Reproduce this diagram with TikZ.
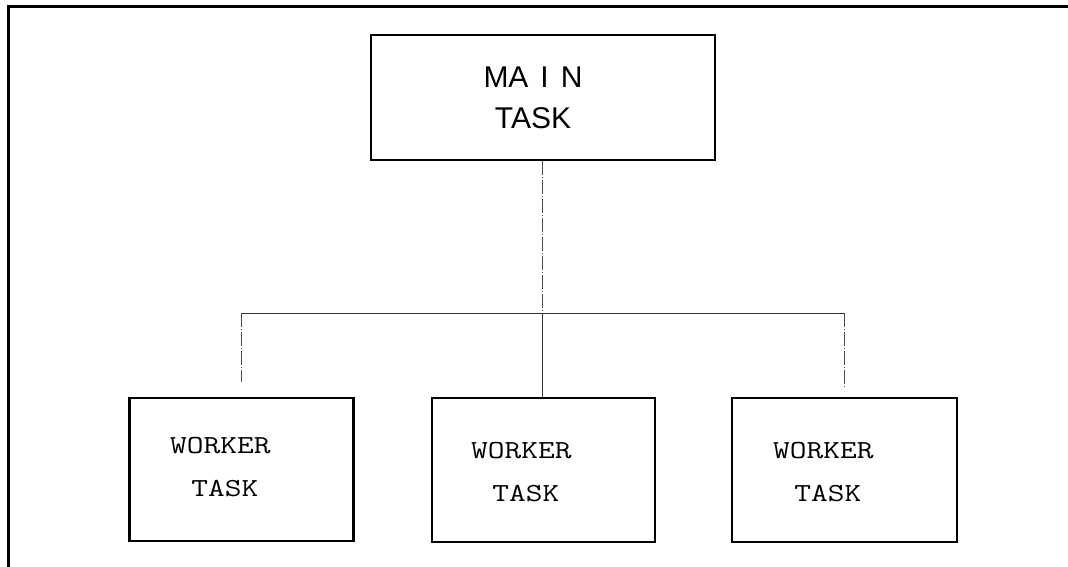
\documentclass[tikz,border=0pt]{standalone}
\usepackage{fontspec}
\usepackage{graphicx}
\usetikzlibrary{calc}
\setmainfont{Liberation Sans}
\newcommand{\wtask}{\scalebox{1.25}[1]{\begin{tabular}{@{}l@{}}WORKER\\\hspace*{17pt}TASK\end{tabular}}}
\begin{document}
\begin{tikzpicture}[x=1pt,y=-1pt,
  box/.style={draw=black,line width=2.4pt,inner sep=0pt,rectangle},
  maintext/.style={align=center,font=\fontsize{30}{41}\selectfont,inner sep=0pt},
  worktext/.style={anchor=west,font=\ttfamily\fontsize{26}{43}\selectfont,inner sep=0pt},
  conn/.style={line width=1pt,black!80},
  dconn/.style={line width=1pt,black!70,dash pattern=on 14pt off 2pt on 1pt off 2pt}]
\useasboundingbox (0,0) rectangle (1068,567);
% partial frame (top and left only)
\draw[line width=3pt] (8,567) -- (8,7) -- (1068,7);
% boxes
\node[box,minimum width=344pt,minimum height=125pt] (main) at (543,97.5) {};
\node[box,minimum width=224pt,minimum height=143pt] (w1) at (241.5,469.5) {};
\node[box,minimum width=223pt,minimum height=144pt] (w2) at (543.5,470) {};
\node[box,minimum width=225pt,minimum height=144pt] (w3) at (844.5,470) {};
% texts
\node[maintext] (mt) at (533,97.5) {MA\hspace{0.4em}I\hspace{0.4em}N\\TASK};
\node[worktext] (t1) at (170,466) {\wtask};
\node[worktext] (t2) at (471,471) {\wtask};
\node[worktext] (t3) at (773,471) {\wtask};
% connectors
\coordinate (j) at (542,313);
\coordinate (jl) at (w1.north |- j);
\coordinate (jr) at (w3.north |- j);
\coordinate (e1) at ($(w1.north)+(0,-15)$);
\coordinate (e3) at ($(w3.north)+(0,-10)$);
\draw[dconn] (main.south -| j) -- (j);
\draw[conn] (jl) -- (jr);
\draw[conn] (j) -- (w2.north -| j);
\draw[dconn] (jl) -- (w1.north |- e1);
\draw[dconn] (jr) -- (w3.north |- e3);
\end{tikzpicture}
\end{document}
